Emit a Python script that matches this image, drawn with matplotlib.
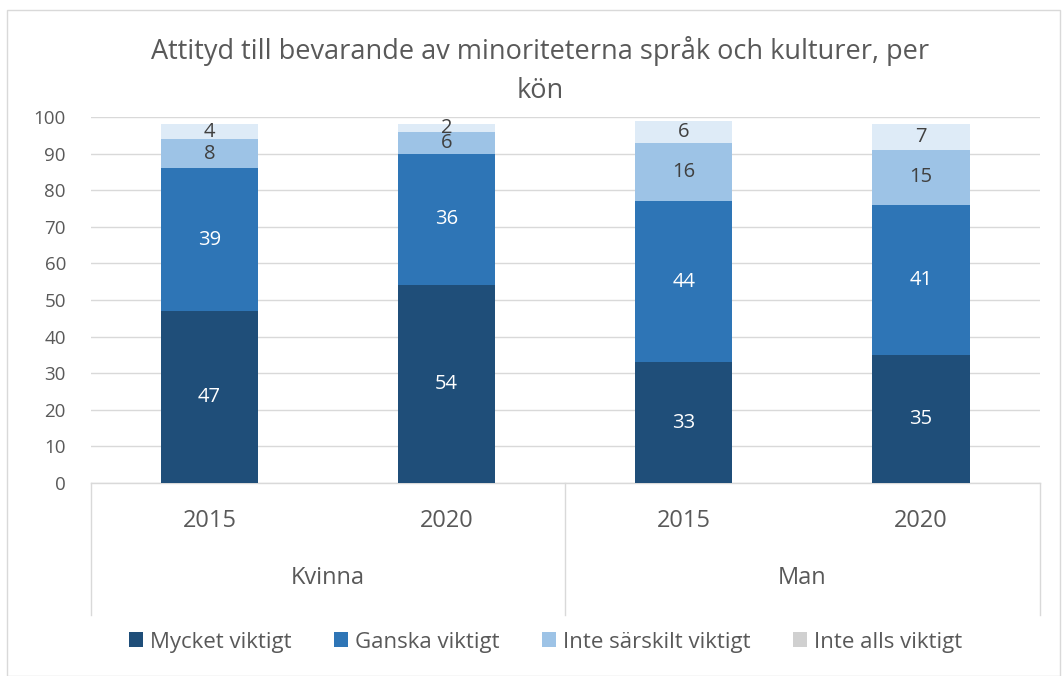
import matplotlib
matplotlib.use('Agg')
import matplotlib.pyplot as plt
from matplotlib.patches import Rectangle, Patch
from matplotlib.lines import Line2D
import numpy as np

plt.rcParams['font.family'] = ['Open Sans', 'DejaVu Sans']

years = ['2015', '2020', '2015', '2020']
groups = ['Kvinna', 'Man']
series = ['Mycket viktigt', 'Ganska viktigt', 'Inte särskilt viktigt', 'Inte alls viktigt']
mycket = [47, 54, 33, 35]
ganska = [39, 36, 44, 41]
inte_sarskilt = [8, 6, 16, 15]
inte_alls = [4, 2, 6, 7]

colors = ['#1f4e79', '#2e75b6', '#9dc3e6', '#deebf7']
legend_colors = ['#1f4e79', '#2e75b6', '#9dc3e6', '#d0d0d0']
label_colors = ['white', 'white', '#404040', '#404040']
grey = '#595959'

fig = plt.figure(figsize=(10.63, 6.76), dpi=100)
fig.patches.append(Rectangle((0.007, 0.0), 0.99, 0.985, transform=fig.transFigure,
                             fill=False, edgecolor='#d9d9d9', linewidth=1.0))
ax = fig.add_axes([0.0856, 0.2855, 0.8924, 0.5415])

x = np.arange(len(years))
bottom = np.zeros(len(years))
for vals, c, lc in zip([mycket, ganska, inte_sarskilt, inte_alls], colors, label_colors):
    vals = np.array(vals, dtype=float)
    ax.bar(x, vals, bottom=bottom, width=0.41, color=c, zorder=3)
    for xi, b, v in zip(x, bottom, vals):
        ax.text(xi, b + v / 2, f'{int(v)}', ha='center', va='center',
                fontsize=14.5, color=lc, zorder=4)
    bottom += vals

ax.set_xlim(-0.5, 3.5)
ax.set_ylim(0, 100)
ax.set_yticks(range(0, 101, 10))
ax.tick_params(axis='y', length=0, labelsize=13.5, labelcolor=grey, pad=18)
ax.set_xticks([])
ax.grid(axis='y', color='#d9d9d9', linewidth=1.0, zorder=0)
for s in ['top', 'right', 'left']:
    ax.spines[s].set_visible(False)
ax.spines['bottom'].set_color('#d9d9d9')
ax.spines['bottom'].set_linewidth(1.0)

# hierarchical category axis
trans = ax.get_xaxis_transform()
for xi, y in zip(x, years):
    ax.text(xi, -0.105, y, transform=trans, ha='center', va='center',
            fontsize=17, color=grey)
for gi, g in enumerate(groups):
    ax.text(gi * 2 + 0.5, -0.26, g, transform=trans, ha='center', va='center',
            fontsize=17, color=grey)
for xv in [-0.5, 1.5, 3.5]:
    ax.add_line(Line2D([xv, xv], [0, -0.36], transform=trans, color='#d9d9d9',
                       linewidth=1.0, clip_on=False))

fig.text(0.508, 0.925, 'Attityd till bevarande av minoriteterna språk och kulturer, per',
         ha='center', va='center', fontsize=19.5, color=grey)
fig.text(0.508, 0.866, 'kön', ha='center', va='center', fontsize=19.5, color=grey)

handles = [Patch(facecolor=c, edgecolor='none') for c in legend_colors]
fig.legend(handles, series, loc='center', bbox_to_anchor=(0.513, 0.05), ncol=4,
           frameon=False, fontsize=16, handlelength=0.65, handleheight=0.65,
           handletextpad=0.3, columnspacing=1.9, labelcolor=grey)

fig.savefig('out.png', dpi=100)
